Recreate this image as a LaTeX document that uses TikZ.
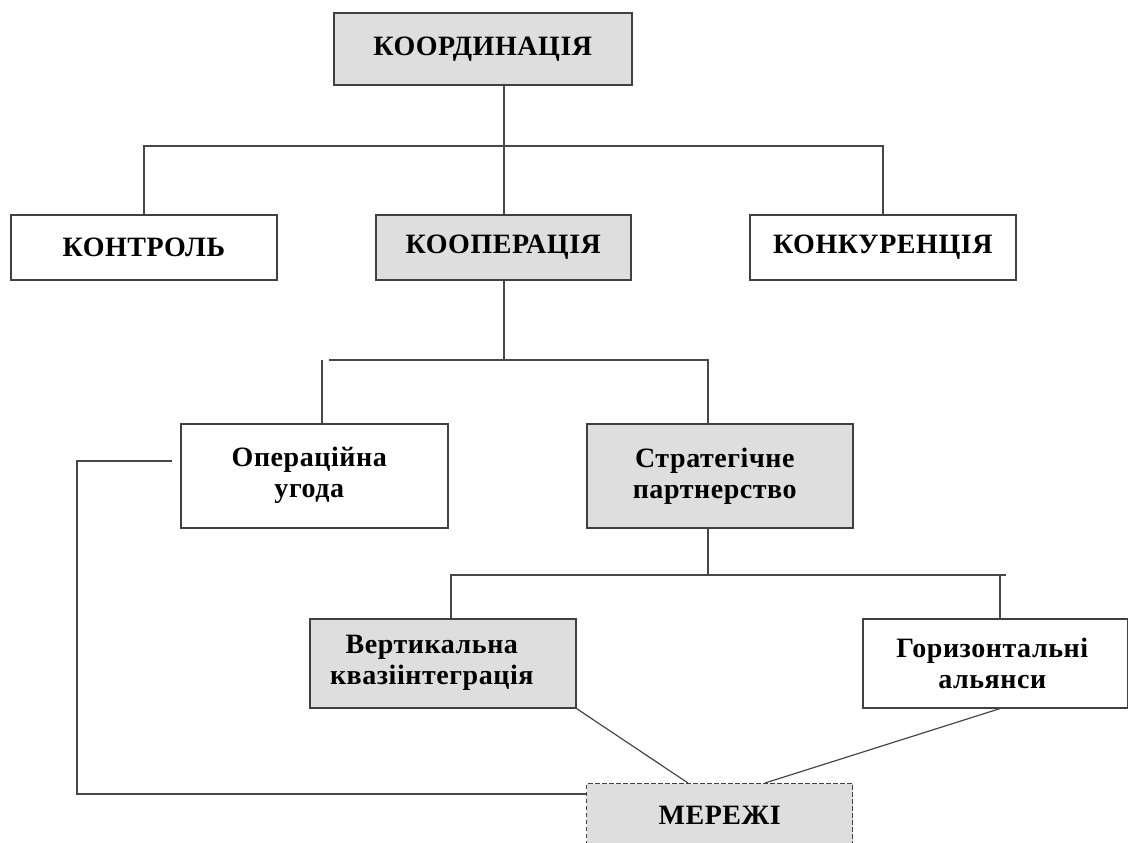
\documentclass[tikz,border=0pt]{standalone}
\usepackage{fontspec}
\setmainfont{Liberation Serif}
\begin{document}
\begin{tikzpicture}[x=1pt,y=-1pt,
  box/.style={draw=black!75, line width=1.6pt, inner sep=0pt, anchor=north west,
    align=center, fill=white,
    font=\bfseries\fontsize{28}{31}\selectfont\addfontfeatures{LetterSpace=2}},
  shaded/.style={box, fill=black!13},
  link/.style={draw=black!72, line width=1.6pt}]
\useasboundingbox (0,0) rectangle (1128,843);
\clip (0,0) rectangle (1128,843);

% boxes
\node[shaded, minimum width=298pt, minimum height=72pt] (coord) at (333,12) {КООРДИНАЦІЯ};
\node[box, minimum width=266pt, minimum height=65pt] (ctrl) at (10,214) {КОНТРОЛЬ};
\node[shaded, minimum width=255pt, minimum height=65pt] (coop) at (375,214) {КООПЕРАЦІЯ};
\node[box, minimum width=266pt, minimum height=65pt] (konk) at (749,214) {КОНКУРЕНЦІЯ};
\node[box, minimum width=267pt, minimum height=104pt] (oper) at (180,423)
  {Операційна\hspace*{10pt}\\угода\hspace*{10pt}};
\node[shaded, minimum width=266pt, minimum height=104pt] (strat) at (586,423)
  {Стратегічне\hspace*{10pt}\\партнерство\hspace*{10pt}};
\node[shaded, minimum width=266pt, minimum height=89pt] (vert) at (309,618)
  {Вертикальна\hspace*{22pt}\\квазіінтеграція\hspace*{22pt}};
\node[box, minimum width=265pt, minimum height=89pt] (hor) at (862,618)
  {Горизонтальні\hspace*{6pt}\\альянси\hspace*{6pt}};
\node[shaded, dash pattern=on 4.5pt off 2.5pt, line width=1.4pt,
  minimum width=266pt, minimum height=90pt] (net) at (586,783)
  {\raisebox{4pt}[0pt][0pt]{МЕРЕЖІ}};

% junction points of the tree
\coordinate (b1) at (504,146);
\coordinate (b2L) at (329,360);
\coordinate (d2L) at (322,360);
\coordinate (b2R) at (708,360);
\coordinate (b3L) at (451,575);
\coordinate (b3R) at (1006,575);
\coordinate (d3R) at (1000,575);
\coordinate (nA) at (688,0);
\coordinate (nB) at (765,0);
\coordinate (oL) at (172,461);
\coordinate (lc) at (77,461);
\coordinate (lb) at (77,794);

% first level
\draw[link] (coord.south -| b1) -- (b1);
\draw[link] (ctrl.north) -- (ctrl.north |- b1) -- (konk.north |- b1) -- (konk.north);
\draw[link] (coop.north -| b1) -- (b1);

% second level
\draw[link] (coop.south -| b1) -- (b1 |- b2R);
\draw[link] (b2L) -- (b2R) -- (b2R |- strat.north);
\draw[link] (d2L) -- (d2L |- oper.north);

% third level
\draw[link] (b2R |- strat.south) -- (b2R |- b3L);
\draw[link] (b3L |- vert.north) -- (b3L) -- (b3R);
\draw[link] (d3R) -- (d3R |- hor.north);

% links to the network box
\draw[link, line width=1.2pt] (vert.south east) -- (nA |- net.north);
\draw[link, line width=1.2pt] (d3R |- hor.south) -- (nB |- net.north);
\draw[link] (oL) -- (lc) -- (lb) -- (net.west |- lb);
\end{tikzpicture}
\end{document}
